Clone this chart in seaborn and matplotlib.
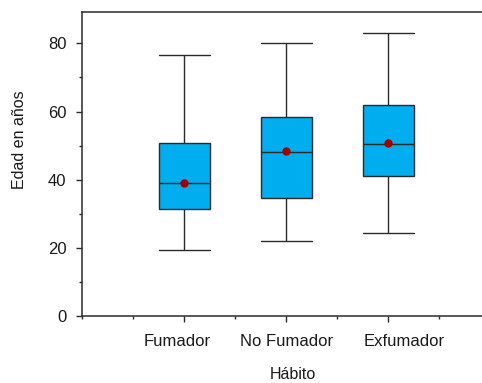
import numpy as np
import pandas as pd
import matplotlib
matplotlib.use("Agg")
import matplotlib.pyplot as plt
import matplotlib.transforms as mtransforms
from matplotlib.ticker import MultipleLocator
import seaborn as sns

# five-number summary per group (min, Q1, median, Q3, max)
habitos = ['Fumador', 'No Fumador', 'Exfumador']
minimos = [19.4, 22.1, 24.4]
q1 = [31.5, 34.5, 41.1]
medianas = [39.0, 48.2, 50.6]
q3 = [50.9, 58.3, 61.8]
maximos = [76.7, 80.0, 82.9]
medias = [39.1, 48.3, 50.8]

rows = []
for i, h in enumerate(habitos):
    for v in (minimos[i], q1[i], medianas[i], q3[i], maximos[i]):
        rows.append({'habito': h, 'edad': v})
df = pd.DataFrame(rows)
df_media = pd.DataFrame({'habito': habitos, 'edad': medias})

sns.set_style('ticks')
plt.rcParams['font.family'] = ['Liberation Sans', 'DejaVu Sans']

fig = plt.figure(figsize=(4.82, 3.83), dpi=100)
ax = fig.add_axes([82 / 482, 67 / 383, 400 / 482, 304 / 383])

edge = '#2b2b2b'
sns.boxplot(data=df, x='habito', y='edad', order=habitos, ax=ax,
            whis=(0, 100), width=0.5, color='#00adee', saturation=1,
            linecolor=edge, linewidth=1.0, showfliers=False,
            capwidths=0.5)
sns.stripplot(data=df_media, x='habito', y='edad', order=habitos, ax=ax,
              jitter=False, color='#a00000', size=6, linewidth=0, zorder=5)

ax.set_xlim(-1, 2.92)
ax.set_ylim(0, 89.2)
ax.yaxis.set_major_locator(MultipleLocator(20))
ax.yaxis.set_minor_locator(MultipleLocator(10))
ax.xaxis.set_minor_locator(MultipleLocator(0.5))

ax.tick_params(which='major', length=4.3, width=1, color=edge,
               labelsize=12, labelcolor='#1a1a1a', pad=7)
ax.tick_params(axis='x', which='major', pad=9)
ax.tick_params(which='minor', length=2.3, width=1, color=edge)

# category labels in the original are not exactly centred on their ticks
for lab, dx in zip(ax.get_xticklabels(), [-7, 0, 16]):
    off = mtransforms.ScaledTranslation(dx / 100, 0, fig.dpi_scale_trans)
    lab.set_transform(lab.get_transform() + off)

for s in ['left', 'bottom', 'top']:
    ax.spines[s].set_color(edge)
    ax.spines[s].set_linewidth(1.1)
ax.spines['right'].set_visible(False)

ax.set_xlabel('Hábito', fontsize=11.5, color='#1a1a1a', va='baseline')
ax.set_ylabel('Edad en años', fontsize=11.5, color='#1a1a1a')
ax.xaxis.set_label_coords(0.527, -0.207)
ax.yaxis.set_label_coords(-0.138, 0.58)

plt.savefig('out.png', dpi=100)
